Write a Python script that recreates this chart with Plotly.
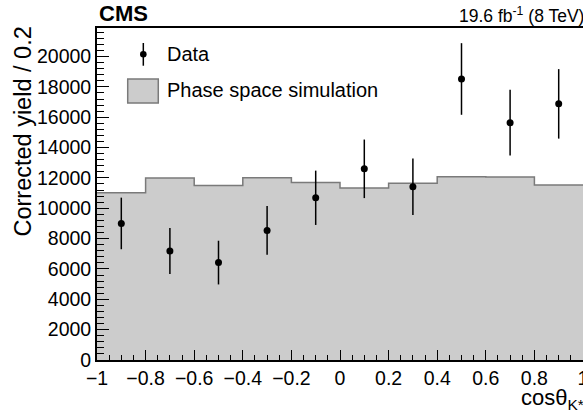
import plotly.graph_objects as go

# Data
bin_edges = [-1.0, -0.8, -0.6, -0.4, -0.2, 0.0, 0.2, 0.4, 0.6, 0.8, 1.0]
bin_centers = [-0.9, -0.7, -0.5, -0.3, -0.1, 0.1, 0.3, 0.5, 0.7, 0.9]
data_yield = [9000, 7180, 6420, 8540, 10690, 12600, 11420, 18520, 15640, 16880]
data_err = [1700, 1520, 1440, 1610, 1790, 1930, 1860, 2360, 2170, 2290]
phase_space = [11020, 11990, 11500, 12010, 11700, 11330, 11650, 12080, 12060, 11530]

x_ticks = [-1, -0.8, -0.6, -0.4, -0.2, 0, 0.2, 0.4, 0.6, 0.8, 1]
x_tick_labels = ["\u22121", "\u22120.8", "\u22120.6", "\u22120.4", "\u22120.2", "0", "0.2", "0.4", "0.6", "0.8", "1"]
y_ticks = [0, 2000, 4000, 6000, 8000, 10000, 12000, 14000, 16000, 18000, 20000]
y_tick_labels = ["0", "2000", "4000", "6000", "8000", "10000", "12000", "14000", "16000", "18000", "20000"]

FONT = "Liberation Sans, Arial, Helvetica, sans-serif"

fig = go.Figure()

# Phase space simulation histogram (step, filled)
fig.add_trace(go.Scatter(
    x=bin_edges,
    y=phase_space + [phase_space[-1]],
    mode="lines",
    line=dict(shape="hv", color="#7a7a7a", width=1.5),
    fill="tozeroy",
    fillcolor="#cccccc",
    hoverinfo="skip",
    showlegend=False,
))

# Data points with error bars
fig.add_trace(go.Scatter(
    x=bin_centers,
    y=data_yield,
    mode="markers",
    marker=dict(color="black", size=7, symbol="circle"),
    error_y=dict(type="data", array=data_err, visible=True, color="black", thickness=1.5, width=0),
    showlegend=False,
))

axis_common = dict(
    showline=True, linecolor="black", linewidth=1.8, mirror=True,
    ticks="inside", tickcolor="black", showgrid=False, zeroline=False,
    ticklabeloverflow="allow", automargin=False,
    tickfont=dict(family=FONT, size=19.5, color="black"),
)

fig.update_xaxes(
    range=[-1, 1], tickvals=x_ticks, ticktext=x_tick_labels, ticklen=10, tickwidth=1.2,
    minor=dict(dtick=0.05, tick0=-1, ticks="inside", ticklen=5, tickcolor="black", tickwidth=1),
    **axis_common,
)
fig.update_yaxes(
    range=[0, 21880], tickvals=y_ticks, ticktext=y_tick_labels, ticklen=12, tickwidth=1.2,
    minor=dict(dtick=400, tick0=0, ticks="inside", ticklen=7, tickcolor="black", tickwidth=1),
    **axis_common,
)

# Legend drawn manually (paper coordinates)
shapes = [
    dict(type="rect", xref="paper", yref="paper", x0=0.0632, x1=0.1261, y0=0.7741, y1=0.8464,
         fillcolor="#cccccc", line=dict(color="#7a7a7a", width=1.5)),
    dict(type="line", xref="paper", yref="paper", x0=0.0953, x1=0.0953, y0=0.8864, y1=0.9548,
         line=dict(color="black", width=1.5)),
    dict(type="circle", xref="paper", yref="paper", x0=0.0953 - 0.0068, x1=0.0953 + 0.0068,
         y0=0.9208 - 0.0100, y1=0.9208 + 0.0100, fillcolor="black", line=dict(color="black", width=0)),
]

annotations = [
    dict(text="Data", xref="paper", yref="paper", x=0.1399, y=0.921, xanchor="left", yanchor="middle",
         showarrow=False, font=dict(family=FONT, size=20, color="black")),
    dict(text="Phase space simulation", xref="paper", yref="paper", x=0.1399, y=0.812, xanchor="left",
         yanchor="middle", showarrow=False, font=dict(family=FONT, size=20, color="black")),
    dict(text="<b>CMS</b>", xref="paper", yref="paper", x=0.0, y=1.045, xanchor="left", yanchor="middle",
         showarrow=False, font=dict(family=FONT, size=22, color="black")),
    dict(text="19.6 fb<sup>-1</sup> (8 TeV)", xref="paper", yref="paper", x=1.0, y=1.04, xanchor="right",
         yanchor="middle", xshift=3, showarrow=False, font=dict(family=FONT, size=17.5, color="black")),
    dict(text="Corrected yield / 0.2", xref="paper", yref="paper", x=-0.153, y=0.687, xanchor="center",
         yanchor="middle", textangle=-90, showarrow=False, font=dict(family=FONT, size=23.5, color="black")),
    dict(text="cos\u03b8<sub>K*</sub>", xref="paper", yref="paper", x=1.0, y=-0.118, xanchor="right",
         yanchor="middle", xshift=3, showarrow=False, font=dict(family=FONT, size=22, color="black")),
]

fig.update_layout(
    width=583, height=414,
    margin=dict(l=97, r=0, t=28, b=54),
    paper_bgcolor="white", plot_bgcolor="white",
    shapes=shapes, annotations=annotations,
    showlegend=False,
    font=dict(family=FONT, color="black"),
)

fig.write_html(
    "out.html",
    config={"displayModeBar": False},
    post_script="document.body.style.margin='0';document.body.style.overflow='hidden';",
)
